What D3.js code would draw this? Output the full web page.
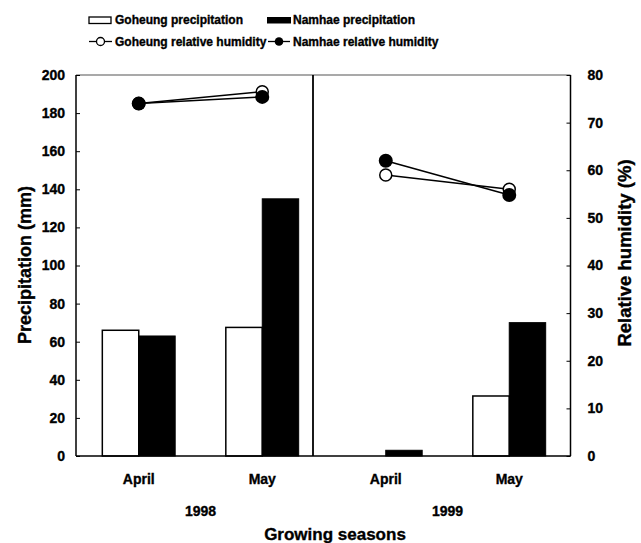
<!DOCTYPE html>
<html>
<head>
<meta charset="utf-8">
<script src="https://cdn.jsdelivr.net/npm/d3@7"></script>
<style>
  body { margin: 0; background: #fff; }
  svg { display: block; font-family: "Liberation Sans", Arial, sans-serif; font-weight: bold; }
  .heavy { stroke: #000; stroke-width: 0.35; }
</style>
</head>
<body>
<svg id="chart" width="641" height="543"></svg>
<script>
// ---- Data ----
const months = ["April", "May", "April", "May"];
const years = ["1998", "1998", "1999", "1999"];
const yearLabels = ["1998", "1999"];
const goheungPrecip = [66, 67.5, 0, 31.5];
const namhaePrecip = [63, 135, 3, 70];
const goheungRH = [74, 76.5, 59, 56];
const namhaeRH = [74, 75.4, 62, 54.8];
const precipTicks = [0, 20, 40, 60, 80, 100, 120, 140, 160, 180, 200];
const rhTicks = [0, 10, 20, 30, 40, 50, 60, 70, 80];
const seriesNames = ["Goheung precipitation", "Namhae precipitation", "Goheung relative humidity", "Namhae relative humidity"];

// ---- Layout ----
const svg = d3.select("#chart");
const L = 76, R = 570.5, T = 75, B = 456;
const idx = months.map((d, i) => i);

const x = d3.scaleBand().domain(idx).range([77, 571]).paddingInner(0.41).paddingOuter(0.205);
const xs = d3.scaleBand().domain(["G", "N"]).range([0, x.bandwidth()]);
const yP = d3.scaleLinear().domain([0, 200]).range([B, T]);
const yH = d3.scaleLinear().domain([0, 80]).range([B, T]);
const cx = i => x(i) + x.bandwidth() / 2;

// Bars
const g = svg.append("g");
g.selectAll("rect.g").data(idx).join("rect")
  .attr("x", i => x(i) + xs("G")).attr("width", xs.bandwidth())
  .attr("y", i => yP(goheungPrecip[i])).attr("height", i => B - yP(goheungPrecip[i]))
  .attr("fill", "#fff").attr("stroke", "#000").attr("stroke-width", 1.5)
  .attr("display", i => goheungPrecip[i] > 0 ? null : "none");
g.selectAll("rect.n").data(idx).join("rect")
  .attr("x", i => x(i) + xs("N")).attr("width", xs.bandwidth())
  .attr("y", i => yP(namhaePrecip[i])).attr("height", i => B - yP(namhaePrecip[i]))
  .attr("fill", "#000").attr("stroke", "#000").attr("stroke-width", 1);

// Frame
svg.append("line").attr("x1", L).attr("x2", R).attr("y1", T).attr("y2", T).attr("stroke", "#555").attr("stroke-width", 1.2);
svg.append("line").attr("x1", L).attr("x2", R).attr("y1", B).attr("y2", B).attr("stroke", "#000").attr("stroke-width", 1.5);
svg.append("line").attr("x1", L).attr("x2", L).attr("y1", T).attr("y2", B).attr("stroke", "#000").attr("stroke-width", 1.5);
svg.append("line").attr("x1", R).attr("x2", R).attr("y1", T).attr("y2", B).attr("stroke", "#000").attr("stroke-width", 1.5);
svg.append("line").attr("x1", 313).attr("x2", 313).attr("y1", T).attr("y2", B).attr("stroke", "#000").attr("stroke-width", 1.8);

// Left axis
const axL = svg.append("g").attr("transform", `translate(${L},0)`)
  .call(d3.axisLeft(yP).tickValues(precipTicks).tickSize(-4).tickPadding(11));
axL.select(".domain").remove();
axL.selectAll("text").attr("font-size", 14).attr("font-weight", "bold").attr("font-family", "Liberation Sans, Arial, sans-serif").attr("fill", "#000").attr("class", "heavy");
axL.selectAll("line").attr("stroke", "#000");

// Right axis
const axR = svg.append("g").attr("transform", `translate(${R},0)`)
  .call(d3.axisRight(yH).tickValues(rhTicks).tickSize(-4).tickPadding(17));
axR.select(".domain").remove();
axR.selectAll("text").attr("font-size", 14).attr("font-weight", "bold").attr("font-family", "Liberation Sans, Arial, sans-serif").attr("fill", "#000").attr("class", "heavy");
axR.selectAll("line").attr("stroke", "#000");

// Lines (within each year)
const line = d3.line().x(d => cx(d.i)).y(d => yH(d.v));
yearLabels.forEach(yr => {
  const ids = idx.filter(i => years[i] === yr);
  svg.append("path").attr("d", line(ids.map(i => ({ i, v: goheungRH[i] }))))
    .attr("fill", "none").attr("stroke", "#000").attr("stroke-width", 1.6);
  svg.append("path").attr("d", line(ids.map(i => ({ i, v: namhaeRH[i] }))))
    .attr("fill", "none").attr("stroke", "#000").attr("stroke-width", 1.6);
});
svg.selectAll("circle.g").data(idx).join("circle")
  .attr("cx", cx).attr("cy", i => yH(goheungRH[i])).attr("r", 6)
  .attr("fill", "#fff").attr("stroke", "#000").attr("stroke-width", 1.5);
svg.selectAll("circle.n").data(idx).join("circle")
  .attr("cx", cx).attr("cy", i => yH(namhaeRH[i])).attr("r", 7)
  .attr("fill", "#000");

// X labels
svg.selectAll("text.month").data(idx).join("text")
  .attr("class", "heavy")
  .attr("x", cx).attr("y", 484).attr("text-anchor", "middle").attr("font-size", 14).text(i => months[i]);
yearLabels.forEach(yr => {
  const ids = idx.filter(i => years[i] === yr);
  const mid = (cx(ids[0]) + cx(ids[ids.length - 1])) / 2;
  svg.append("text").attr("class", "heavy").attr("x", mid).attr("y", 516).attr("text-anchor", "middle").attr("font-size", 14).text(yr);
});
svg.append("text").attr("class", "heavy").attr("x", 335).attr("y", 540).attr("text-anchor", "middle").attr("font-size", 17).text("Growing seasons");

// Axis titles
svg.append("text").attr("class", "heavy").attr("transform", "translate(31,265) rotate(-90)").attr("text-anchor", "middle").attr("font-size", 18).text("Precipitation (mm)");
svg.append("text").attr("class", "heavy").attr("transform", "translate(631,253) rotate(-90)").attr("text-anchor", "middle").attr("font-size", 18.5).text("Relative humidity (%)");

// Legend
const leg = svg.append("g").attr("font-size", 12);
leg.append("rect").attr("x", 89).attr("y", 17).attr("width", 22).attr("height", 6.5).attr("fill", "#fff").attr("stroke", "#000").attr("stroke-width", 1.3);
leg.append("text").attr("class", "heavy").attr("x", 115).attr("y", 24).text(seriesNames[0]);
leg.append("rect").attr("x", 267).attr("y", 17).attr("width", 24).attr("height", 6.5).attr("fill", "#000");
leg.append("text").attr("class", "heavy").attr("x", 293).attr("y", 24).text(seriesNames[1]);
leg.append("line").attr("x1", 89).attr("x2", 112).attr("y1", 41.5).attr("y2", 41.5).attr("stroke", "#000").attr("stroke-width", 1.3);
leg.append("circle").attr("cx", 100.5).attr("cy", 41.5).attr("r", 4).attr("fill", "#fff").attr("stroke", "#000").attr("stroke-width", 1.3);
leg.append("text").attr("class", "heavy").attr("x", 115).attr("y", 46).text(seriesNames[2]);
leg.append("line").attr("x1", 268).attr("x2", 290).attr("y1", 41.5).attr("y2", 41.5).attr("stroke", "#000").attr("stroke-width", 1.3);
leg.append("circle").attr("cx", 279).attr("cy", 41.5).attr("r", 4.3).attr("fill", "#000");
leg.append("text").attr("class", "heavy").attr("x", 293).attr("y", 46).text(seriesNames[3]);
</script>
</body>
</html>
